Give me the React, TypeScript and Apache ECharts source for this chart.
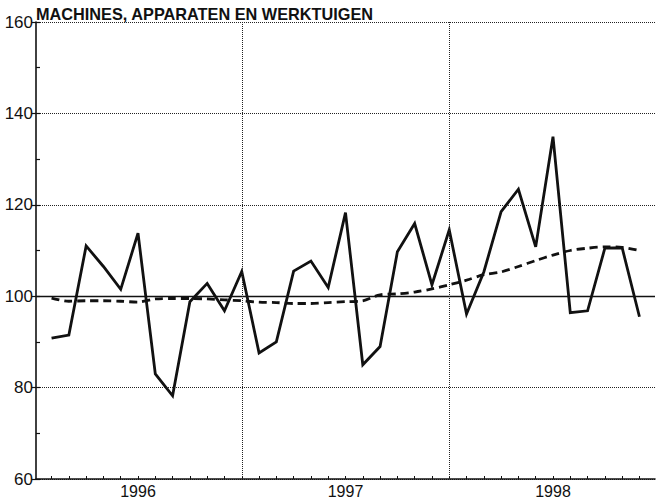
import React, { useEffect, useRef } from "react";
import * as echarts from "echarts";

const chartTitle = "MACHINES, APPARATEN EN WERKTUIGEN";
const years = ["1996", "1997", "1998"];
// monthly observations Jan 1996 .. Nov 1998
const months = years
  .flatMap((y) => Array.from({ length: 12 }, (_, m) => `${y}-${String(m + 1).padStart(2, "0")}`))
  .slice(0, 35);
const production = [
  90.8, 91.5, 111.0, 106.5, 101.5, 113.8, 83.0, 78.2, 98.8, 102.8, 96.8, 105.4,
  87.6, 90.0, 105.5, 107.7, 101.9, 118.3, 85.0, 89.0, 109.7, 115.9, 102.5, 114.5,
  96.1, 105.3, 118.5, 123.4, 110.8, 134.9, 96.4, 96.8, 110.5, 110.6, 95.5,
];
const trend = [
  99.6, 98.9, 99.0, 99.0, 98.9, 98.7, 99.4, 99.5, 99.5, 99.4, 99.2, 99.0,
  98.7, 98.6, 98.4, 98.4, 98.6, 98.8, 99.0, 100.3, 100.5, 100.9, 101.6, 102.5,
  103.5, 104.7, 105.3, 106.5, 107.8, 109.0, 110.0, 110.5, 110.8, 110.7, 110.0,
];
const yMin = 60;
const yMax = 160;
const yStep = 20;
const baseLevel = 100;

export default function App() {
  const ref = useRef<HTMLDivElement>(null);
  useEffect(() => {
    if (!ref.current) return;
    const chart = echarts.init(ref.current, null, { renderer: "svg" });
    const xOf = (i: number) => i + 1; // month-end position
    const yearEnds = years.slice(0, -1).map((_, k) => (k + 1) * 12);
    const yearMids = years.map((_, k) => k * 12 + 6);
    const font = "Liberation Sans, Arial, sans-serif";
    chart.setOption({
      animation: false,
      backgroundColor: "#fff",
      title: {
        text: chartTitle,
        left: 36,
        top: 6,
        padding: 0,
        textStyle: { fontSize: 16.3, fontWeight: "bold", fontFamily: font, color: "#111" },
      },
      grid: { left: 36, right: 1, top: 22, bottom: 22, containLabel: false },
      xAxis: {
        type: "value",
        min: 0.1,
        max: 35.9,
        axisLine: { show: true, lineStyle: { color: "#111", width: 1.6 } },
        axisTick: {
          show: true,
          inside: true,
          length: 3,
          lineStyle: { color: "#111", width: 1 },
          customValues: months.map((_, i) => xOf(i)),
        },
        axisLabel: {
          show: true,
          customValues: yearMids,
          formatter: (v: number) => years[Math.round((v - 6) / 12)] ?? "",
          fontSize: 16,
          fontFamily: font,
          color: "#111",
          margin: 4,
        },
        splitLine: { show: false },
      },
      yAxis: [
        {
          type: "value",
          min: yMin,
          max: yMax,
          interval: yStep,
          axisLine: { show: true, lineStyle: { color: "#111", width: 1.6 } },
          axisTick: { show: true, inside: false, length: 4, lineStyle: { color: "#111", width: 1.2 } },
          axisLabel: { fontSize: 17, fontFamily: font, color: "#111", margin: 3 },
          splitLine: { show: true, lineStyle: { color: "#222", width: 1, type: [1, 1] } },
        },
        {
          type: "value",
          min: yMin,
          max: yMax,
          interval: yStep / 2,
          position: "left",
          axisLine: { show: false },
          axisTick: { show: true, inside: true, length: 4, lineStyle: { color: "#111", width: 1.2 } },
          axisLabel: { show: false },
          splitLine: { show: false },
        },
      ],
      series: [
        {
          type: "line",
          data: production.map((v, i) => [xOf(i), v]),
          symbol: "none",
          lineStyle: { color: "#111", width: 2.8, join: "miter" },
          markLine: {
            silent: true,
            symbol: ["none", "none"],
            label: { show: false },
            data: [{ yAxis: baseLevel, lineStyle: { color: "#111", width: 1.4, type: "solid" } }],
          },
          z: 3,
        },
        {
          type: "line",
          data: trend.map((v, i) => [xOf(i), v]),
          symbol: "none",
          smooth: 0.3,
          lineStyle: { color: "#111", width: 2.8, type: [8, 5] },
          markLine: {
            silent: true,
            symbol: ["none", "none"],
            label: { show: false },
            data: yearEnds.map((x) => ({
              xAxis: x,
              lineStyle: { color: "#222", width: 1, type: [1, 1] },
            })),
          },
          z: 2,
        },
      ],
    });
    return () => chart.dispose();
  }, []);
  return (
    <div
      ref={ref}
      style={{ position: "fixed", left: 0, top: 0, width: 656, height: 501, background: "#fff" }}
    />
  );
}
